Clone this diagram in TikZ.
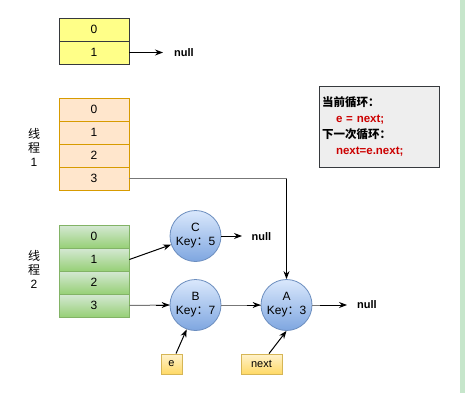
\documentclass[tikz,border=0pt]{standalone}
\usepackage{fontspec}
\setmainfont{Liberation Sans}
\newfontfamily\cjk{Noto Sans CJK SC}
\usetikzlibrary{arrows.meta,shadings}
\definecolor{ylwfill}{HTML}{FFFF88}
\definecolor{ylwdraw}{HTML}{36393D}
\definecolor{orgfill}{HTML}{FFE6CC}
\definecolor{orgdraw}{HTML}{D79B00}
\definecolor{grntop}{HTML}{D5E8D4}
\definecolor{grnbot}{HTML}{97D077}
\definecolor{grndraw}{HTML}{82B366}
\definecolor{blutop}{HTML}{DAE8FC}
\definecolor{blubot}{HTML}{7EA6E0}
\definecolor{bludraw}{HTML}{6C8EBF}
\definecolor{ptrtop}{HTML}{FFF2CC}
\definecolor{ptrbot}{HTML}{FFD966}
\definecolor{ptrdraw}{HTML}{D6B656}
\definecolor{infofill}{HTML}{EEEEEE}
\definecolor{infodraw}{HTML}{36393D}
\definecolor{redtxt}{HTML}{CC0000}
\definecolor{linegray}{HTML}{777777}
\definecolor{stripe}{HTML}{C6E6CB}
\tikzset{
  cellbase/.style={draw, minimum width=70pt, minimum height=23pt, inner sep=0pt, line width=0.8pt, font=\fontsize{12}{14}\selectfont},
  ycell/.style={cellbase, fill=ylwfill, draw=ylwdraw},
  ocell/.style={cellbase, fill=orgfill, draw=orgdraw},
  gcell/.style={cellbase, top color=grntop, bottom color=grnbot, draw=grndraw},
  entry/.style={circle, minimum size=51pt, inner sep=0pt, top color=blutop, bottom color=blubot, draw=bludraw, line width=0.8pt, align=center, font=\fontsize{12}{14}\selectfont},
  ptrbox/.style={minimum height=20pt, inner sep=0pt, top color=ptrtop, bottom color=ptrbot, draw=ptrdraw, line width=0.8pt, font=\fontsize{11}{13}\selectfont},
  nulltxt/.style={font=\fontsize{11}{13}\selectfont\bfseries, inner sep=0pt},
  thread/.style={align=center, font=\fontsize{12}{14}\selectfont, inner sep=0pt},
  arr/.style={-{Stealth[length=8pt,width=6pt]}, line width=1pt, black},
  grayline/.style={line width=1pt, linegray},
}
\begin{document}
\begin{tikzpicture}[x=1pt,y=-1pt]
\useasboundingbox (0,0) rectangle (465,393);
\fill[white] (0,0) rectangle (465,393);
\fill[stripe] (460,0) rectangle (465,393);

% yellow table
\node[ycell] (y0) at (94,29.5) {0};
\node[ycell] (y1) at (94,52.5) {1};
\node[nulltxt] (ynull) at (184,53) {null};
\draw[arr] (y1.east) -- (163,52.5) coordinate (ytip);

% orange table (thread 1)
\node[ocell] (o0) at (94,109.5) {0};
\node[ocell] (o1) at (94,132.5) {1};
\node[ocell] (o2) at (94,155.5) {2};
\node[ocell] (o3) at (94,178.5) {3};
\node[thread] (t1) at (34,147) {{\cjk 线}\\{\cjk 程}\\1};

% green table (thread 2)
\node[gcell] (g0) at (94,236.5) {0};
\node[gcell] (g1) at (94,259.5) {1};
\node[gcell] (g2) at (94,282.5) {2};
\node[gcell] (g3) at (94,305.5) {3};
\node[thread] (t2) at (34,269) {{\cjk 线}\\{\cjk 程}\\2};

% entries
\node[entry] (C) at (195.5,236) {C\\Key{\cjk ：}5};
\node[entry] (B) at (195.5,305) {B\\Key{\cjk ：}7};
\node[entry] (A) at (286.5,305) {A\\Key{\cjk ：}3};

\node[nulltxt] (cnull) at (261.5,237) {null};
\node[nulltxt] (anull) at (367,305) {null};

% pointers
\node[ptrbox, minimum width=21pt] (e) at (171.5,364) {e};
\node[ptrbox, minimum width=41pt] (nx) at (261.5,364) {next};

% info box
\node[draw=infodraw, fill=infofill, line width=0.9pt, minimum width=120pt, minimum height=81pt,
      text width=114pt, inner sep=3pt, align=left,
      font=\fontsize{11.5}{16}\selectfont\bfseries] (info) at (379,126.5)
  {{\cjk 当前循环：}\\
   \hspace*{14pt}\textcolor{redtxt}{e = next;}\\
   {\cjk 下一次循环：}\\
   \hspace*{14pt}\textcolor{redtxt}{next=e.next;}};

% connectors
\coordinate (corner) at (A.north |- o3.east);
\draw[grayline] (o3.east) -- (corner);
\draw[arr] (corner) -- (A.north);
\draw[arr] (g1.east) -- (C);
\draw[grayline] (g3.east) -- (B.west);
\draw[arr] ([xshift=-14pt]B.west) -- (B.west);
\draw[grayline] (B.east) -- (A.west);
\draw[arr] ([xshift=-14pt]A.west) -- (A.west);
\draw[arr] (C.east) -- (242,236) coordinate (ctip);
\draw[grayline] (A.east) -- (320,305);
\draw[arr] (320,305) -- (347,305) coordinate (atip);
\draw[arr] ([xshift=4.5pt]e.north) -- (B.250);
\draw[arr] ([xshift=7.5pt]nx.north) -- (A.south);
\end{tikzpicture}
\end{document}
